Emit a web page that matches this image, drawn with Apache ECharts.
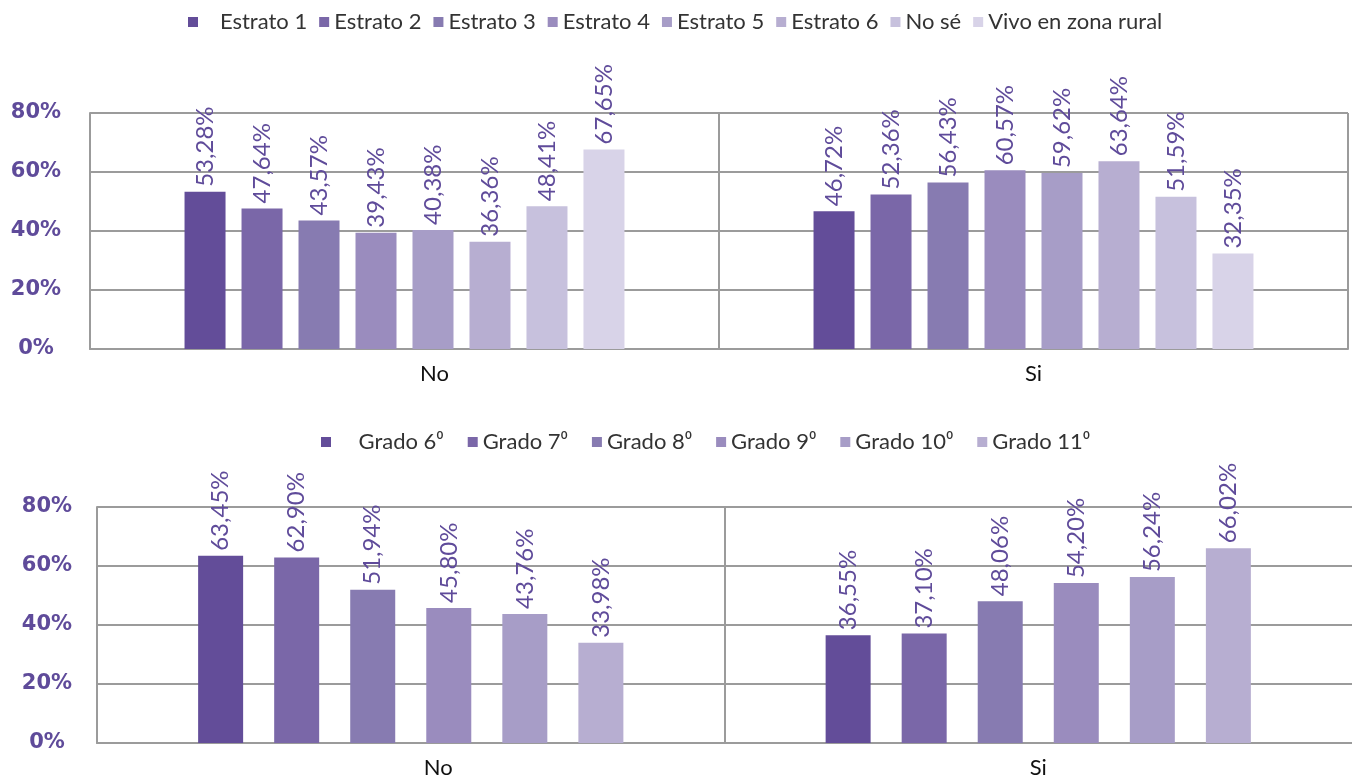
<!DOCTYPE html>
<html><head><meta charset="utf-8">
<script src="https://cdn.jsdelivr.net/npm/echarts@6/dist/echarts.min.js"></script>
<style>html,body{margin:0;padding:0;background:#fff}#c{width:1352px;height:783px}</style>
</head><body><div id="c"></div>
<script>
const categories = ['No', 'Si'];
const estratoNames = ['Estrato 1','Estrato 2','Estrato 3','Estrato 4','Estrato 5','Estrato 6','No sé','Vivo en zona rural'];
const estratoValues = [
  [53.28, 46.72],
  [47.64, 52.36],
  [43.57, 56.43],
  [39.43, 60.57],
  [40.38, 59.62],
  [36.36, 63.64],
  [48.41, 51.59],
  [67.65, 32.35]
];
const gradoNames = ['Grado 6\u2070','Grado 7\u2070','Grado 8\u2070','Grado 9\u2070','Grado 10\u2070','Grado 11\u2070'];
const gradoValues = [
  [63.45, 36.55],
  [62.90, 37.10],
  [51.94, 48.06],
  [45.80, 54.20],
  [43.76, 56.24],
  [33.98, 66.02]
];
const yTicks = [0, 20, 40, 60, 80];
const colors = ['#634d99','#7a67a8','#877bb1','#9a8cbe','#a79dc7','#b7aed1','#c7c1dd','#d8d3e8'];

const purple = '#5f4b9a';
const gridColor = '#9b9b9b';
const fmt = v => v.toFixed(2).replace('.', ',') + '%';

function yAxis(gi, margin) {
  return {
    type: 'value', gridIndex: gi, min: yTicks[0], max: yTicks[yTicks.length-1], interval: 20,
    axisLine: {show: true, lineStyle: {color: gridColor, width: 2}},
    axisTick: {show: false},
    splitLine: {lineStyle: {color: gridColor, width: 2}},
    axisLabel: {formatter: v => v + '%', color: purple, fontFamily: 'DejaVu Sans', fontWeight: 'bold', fontSize: 21, align: 'center', margin: margin}
  };
}
function xAxis(gi, padNo, showMax) {
  return {
    type: 'category', gridIndex: gi, data: categories,
    axisLine: {show: true, lineStyle: {color: gridColor, width: 2}},
    axisTick: {show: false},
    splitLine: {show: true, showMaxLine: showMax, lineStyle: {color: gridColor, width: 2}},
    axisLabel: {
      margin: 14, color: '#111', fontFamily: 'Lato', fontSize: 22,
      formatter: v => v === 'No' ? '{p|}{t|No}' : '{t|' + v + '}',
      rich: {p: {width: padNo}, t: {color: '#111', fontFamily: 'Lato', fontSize: 22}}
    }
  };
}
const labelCfg = {
  show: true, position: 'top', rotate: 90, align: 'left', verticalAlign: 'middle', distance: 5,
  color: purple, fontFamily: 'Lato', fontSize: 24,
  formatter: p => fmt(p.value)
};
const series = [];
estratoNames.forEach((n, i) => series.push({
  name: n, type: 'bar', xAxisIndex: 0, yAxisIndex: 0, data: estratoValues[i],
  barWidth: 41, barGap: '39%', itemStyle: {color: colors[i]}, label: labelCfg
}));
gradoNames.forEach((n, i) => series.push({
  name: n, type: 'bar', xAxisIndex: 1, yAxisIndex: 1, data: gradoValues[i],
  barWidth: 45, barGap: '69%', itemStyle: {color: colors[i]}, label: labelCfg
}));
const legendText = {color: '#333', fontFamily: 'Lato', fontSize: 22};
const chart = echarts.init(document.getElementById('c'), null, {renderer: 'canvas'});
chart.setOption({
  animation: false,
  legend: [
    {data: estratoNames, left: 183, top: 6, icon: 'rect', itemWidth: 10, itemHeight: 10, itemGap: 12,
     textStyle: legendText, formatter: n => n === estratoNames[0] ? '   ' + n : n},
    {data: gradoNames, left: 316, top: 426, icon: 'rect', itemWidth: 10, itemHeight: 10, itemGap: 24,
     textStyle: legendText, formatter: n => n === gradoNames[0] ? '    ' + n : n}
  ],
  grid: [
    {left: 90, right: 4, top: 113, bottom: 434},
    {left: 97, right: 0, top: 507, bottom: 40}
  ],
  xAxis: [xAxis(0, 60, true), xAxis(1, 55, false)],
  yAxis: [yAxis(0, 54), yAxis(1, 50)],
  series: series
});
</script></body></html>
